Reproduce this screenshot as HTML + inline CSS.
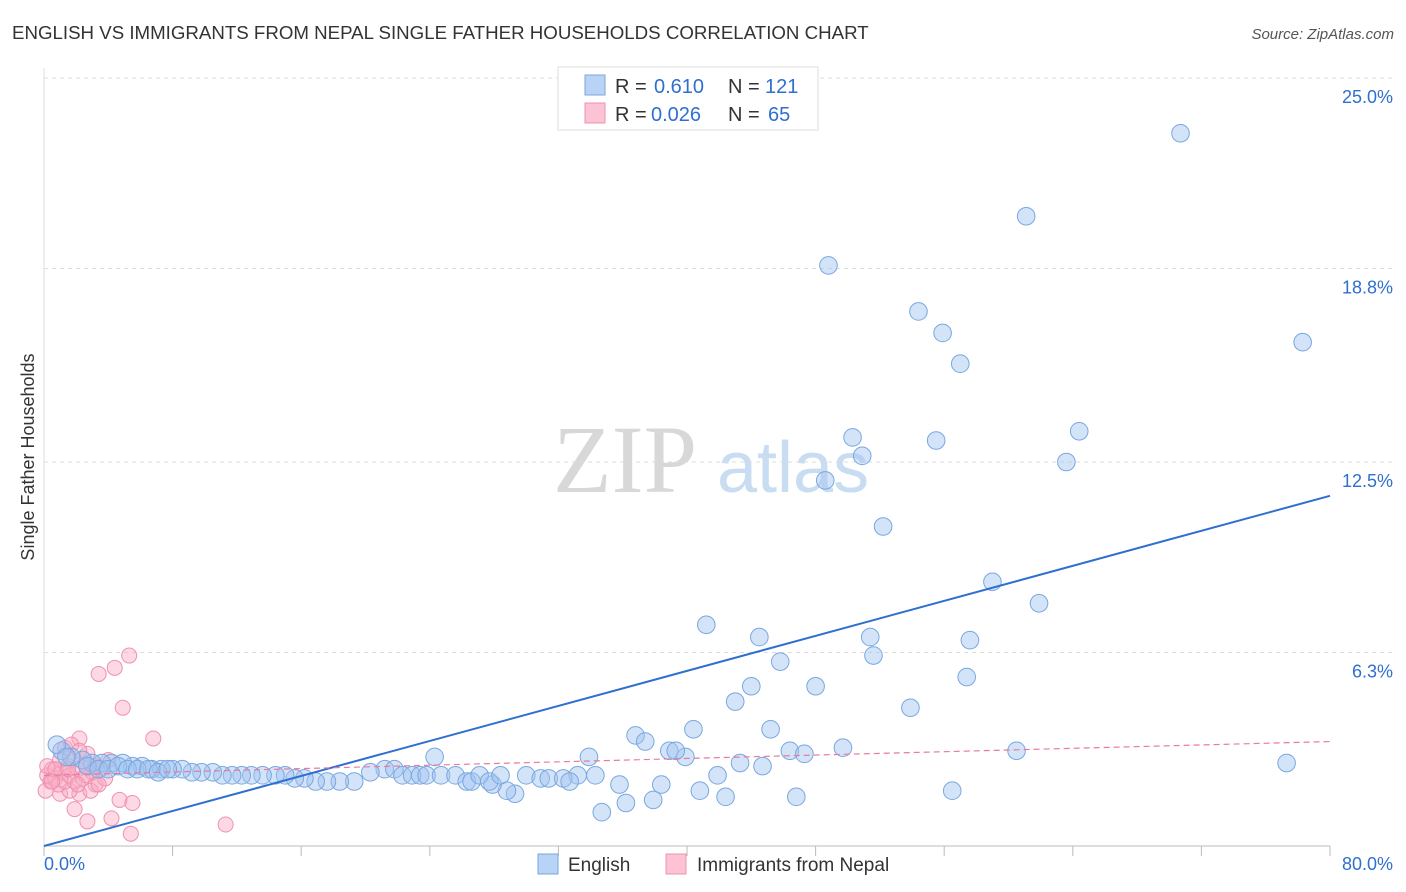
<!DOCTYPE html>
<html><head><meta charset="utf-8"><style>
body{margin:0;background:#fff;font-family:"Liberation Sans",sans-serif}
svg{display:block}
</style></head><body>
<svg id="c" width="1406" height="892">
<text x="12" y="39" font-size="18.7" fill="#333">ENGLISH VS IMMIGRANTS FROM NEPAL SINGLE FATHER HOUSEHOLDS CORRELATION CHART</text>
<text x="1394" y="39" font-size="15" fill="#555" font-style="italic" text-anchor="end">Source: ZipAtlas.com</text>
<text x="34" y="457" font-size="18" fill="#333" text-anchor="middle" transform="rotate(-90 34 457)">Single Father Households</text>
<g>
<text x="553" y="492" font-family="Liberation Serif,serif" font-size="96" fill="#d8d8d8">ZIP</text>
<text x="717" y="492" font-size="72" fill="#c8dcf2">atlas</text>
</g>
<g id="grid"></g><g id="pts"></g><g id="trend"></g>
<g>
<rect x="558" y="67" width="260" height="63" fill="#fff" stroke="#ddd"/>
<rect x="585" y="75" width="20" height="20" fill="#b8d3f5" stroke="#7aa7e0"/>
<rect x="585" y="103" width="20" height="20" fill="#fbc3d4" stroke="#f090b0"/>
<text x="615" y="93" font-size="20" fill="#333">R =</text>
<text x="654" y="93" font-size="20" fill="#2f6fd0">0.610</text>
<text x="728" y="93" font-size="20" fill="#333">N =</text>
<text x="765" y="93" font-size="20" fill="#2f6fd0">121</text>
<text x="615" y="121" font-size="20" fill="#333">R =</text>
<text x="651" y="121" font-size="20" fill="#2f6fd0">0.026</text>
<text x="728" y="121" font-size="20" fill="#333">N =</text>
<text x="768" y="121" font-size="20" fill="#2f6fd0">65</text>
</g>
<g>
<rect x="538" y="854" width="20" height="20" fill="#b8d3f5" stroke="#7aa7e0"/>
<text x="568" y="871" font-size="19" fill="#333">English</text>
<rect x="666" y="854" width="20" height="20" fill="#fbc3d4" stroke="#f090b0"/>
<text x="697" y="871" font-size="19" fill="#333">Immigrants from Nepal</text>
</g>
</svg>
<script>
const yTicks=[25.0,18.8,12.5,6.3];
const yTickLabels=["25.0%","18.8%","12.5%","6.3%"];
const xTickLabels=["0.0%","80.0%"];
const englishX=[70.7,61.1,48.8,54.4,55.9,57.0,78.3,50.3,55.5,64.4,50.9,48.6,63.6,52.2,59.0,61.9,41.2,44.5,51.4,57.6,51.6,45.8,57.4,44.0,48.0,43.0,53.9,40.4,45.2,36.8,37.4,38.9,39.9,39.3,46.4,47.3,49.7,60.5,77.3,43.3,44.7,41.9,33.9,24.3,33.2,34.3,35.8,38.4,40.8,42.4,46.8,56.5,36.2,37.9,34.7,29.3,28.8,27.9,30.0,30.9,31.4,32.3,32.7,21.2,21.8,22.3,22.9,23.4,23.8,24.7,25.6,26.3,26.6,27.1,27.7,28.4,20.3,19.3,18.4,17.6,16.9,16.2,15.6,15.0,14.4,13.6,12.9,12.3,11.7,11.1,10.5,9.8,9.2,8.6,8.0,7.3,6.7,6.1,5.5,4.9,4.2,3.6,3.0,2.4,1.7,1.1,0.8,1.4,2.7,3.4,4.0,4.6,5.2,5.8,6.5,7.1,7.7];
const englishY=[23.2,20.5,18.9,17.4,16.7,15.7,16.4,13.3,13.2,13.5,12.7,11.9,12.5,10.4,8.6,7.9,7.2,6.8,6.8,6.7,6.2,6.0,5.5,5.2,5.2,4.7,4.5,3.8,3.8,3.6,3.4,3.1,2.9,3.1,3.1,3.0,3.2,3.1,2.7,2.7,2.6,2.3,2.9,2.9,2.3,2.3,2.0,2.0,1.8,1.6,1.6,1.8,1.4,1.5,1.1,1.7,1.8,2.0,2.3,2.2,2.2,2.2,2.1,2.5,2.5,2.3,2.3,2.3,2.3,2.3,2.3,2.1,2.1,2.3,2.1,2.3,2.4,2.1,2.1,2.1,2.1,2.2,2.2,2.3,2.3,2.3,2.3,2.3,2.3,2.3,2.4,2.4,2.4,2.5,2.5,2.5,2.5,2.6,2.6,2.7,2.7,2.7,2.7,2.8,2.9,3.1,3.3,2.9,2.6,2.5,2.5,2.6,2.5,2.5,2.5,2.4,2.5];
const nepalX=[5.3,4.4,3.4,4.9,6.8,2.2,4.7,5.5,4.2,2.7,5.4,11.3,1.9,2.2,1.0,1.6,0.2,0.4,0.5,0.7,0.9,1.1,1.3,1.5,1.6,1.8,1.9,2.1,2.4,2.6,2.7,3.0,3.2,3.5,3.8,4.0,1.3,1.7,0.1,0.2,2.2,2.9,3.4,1.0,0.7,2.6,2.1,1.5,3.2,0.5];
const nepalY=[6.2,5.8,5.6,4.5,3.5,3.5,1.5,1.4,0.9,0.8,0.4,0.7,1.2,1.7,1.7,1.8,2.3,2.1,2.5,2.2,2.0,2.4,2.1,2.6,2.3,2.8,2.1,2.5,2.2,2.6,3.0,2.4,2.0,2.5,2.2,2.8,3.2,3.3,1.8,2.6,3.1,1.8,2.0,2.8,2.5,2.3,2.0,2.5,2.6,2.1];
const englishTrend=[0.0,11.4];
const nepalTrend=[2.3,3.4];
const X0=44,X1=1330,Y0=846,Y1=78;
const sx=v=>X0+(v/80)*(X1-X0);
const sy=v=>Y0-(v/25)*(Y0-Y1);
const NS="http://www.w3.org/2000/svg";
function mk(tag,attrs,parent){const e=document.createElementNS(NS,tag);for(const k in attrs)e.setAttribute(k,attrs[k]);parent.appendChild(e);return e;}
const grid=document.getElementById('grid');
yTicks.forEach((t,i)=>{
 const l=mk('line',{x1:X0,x2:1394,y1:sy(t),y2:sy(t),stroke:'#ddd','stroke-dasharray':'4,4'},grid);
 
 
 const tx=mk('text',{x:1393,y:sy(t)+25,'font-size':18,fill:'#2f6fd0','text-anchor':'end'},grid);
 tx.textContent=yTickLabels[i];
 
 
});
const ax=mk('line',{x1:X0,x2:X1,y1:Y0,y2:Y0,stroke:'#bbb'},grid);


const ay=mk('line',{x1:X0,x2:X0,y1:68,y2:Y0,stroke:'#ddd'},grid);


for(let i=0;i<=10;i++){const t=mk('line',{x1:sx(i*8),x2:sx(i*8),y1:Y0,y2:Y0+10,stroke:'#bbb'},grid);
 
 }
[[0,'start',44],[80,'end',1393]].forEach((d,i)=>{const t=mk('text',{x:d[2],y:870,'font-size':18,fill:'#2f6fd0','text-anchor':d[1]},grid);t.textContent=xTickLabels[i];
 
 });
const pts=document.getElementById('pts');
nepalX.forEach((x,i)=>{const c=mk('circle',{cx:sx(x),cy:sy(nepalY[i]),r:7.5,fill:'rgba(248,170,196,0.45)',stroke:'#f090b0','stroke-width':1},pts);
 
 });
englishX.forEach((x,i)=>{const c=mk('circle',{cx:sx(x),cy:sy(englishY[i]),r:8.8,fill:'rgba(160,196,240,0.45)',stroke:'#7aa7e0','stroke-width':1},pts);
 
 });
const tr=document.getElementById('trend');
const b=mk('line',{x1:sx(0),y1:sy(englishTrend[0]),x2:sx(80),y2:sy(englishTrend[1]),stroke:'#2f6fd0','stroke-width':2},tr);


const p=mk('line',{x1:sx(0),y1:sy(nepalTrend[0]),x2:sx(80),y2:sy(nepalTrend[1]),stroke:'#e87aa0','stroke-width':1.2,'stroke-dasharray':'6,4'},tr);


</script>
</body></html>
